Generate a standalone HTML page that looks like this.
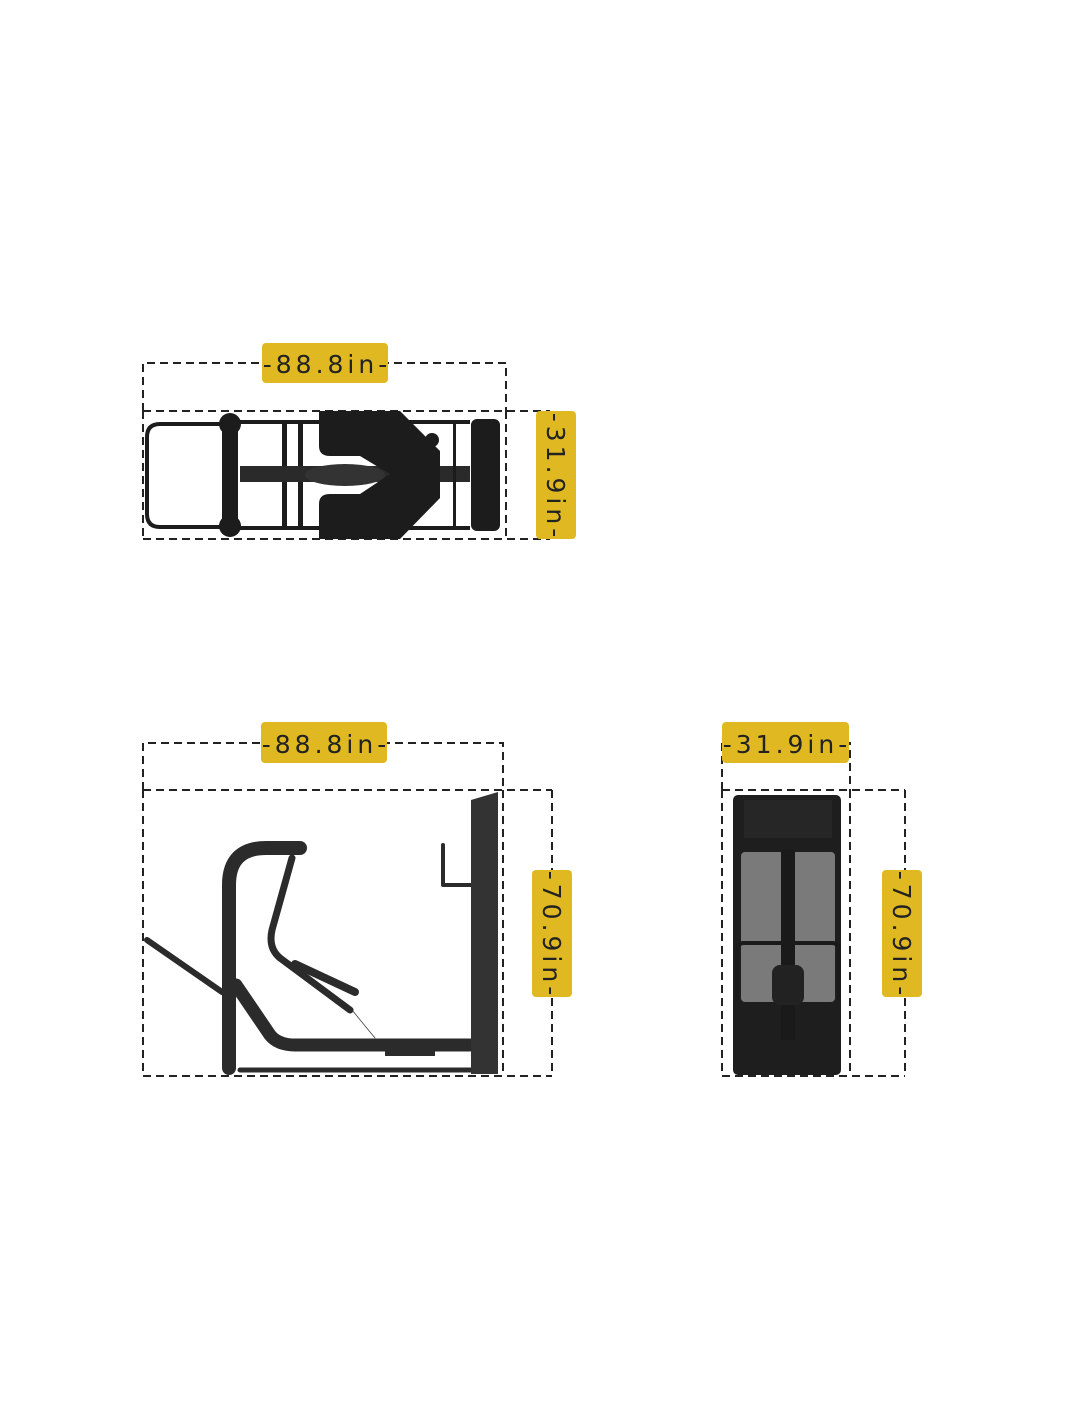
<!DOCTYPE html>
<html><head><meta charset="utf-8"><style>
html,body{margin:0;padding:0;background:#fff;}
svg{display:block}
text{font-family:"DejaVu Sans","Liberation Sans",sans-serif;font-size:25px;fill:#222;letter-spacing:4px;font-weight:normal}
</style></head><body>
<svg width="1065" height="1420" viewBox="0 0 1065 1420" xmlns="http://www.w3.org/2000/svg">
<g fill="none" stroke="#222" stroke-width="2" stroke-dasharray="8,5">
<path d="M143 411 V363 H506 V411"/>
<path d="M143 411 H550 M143 539 H550 M143 411 V539 M506 411 V539"/>
<path d="M143 790 V743 H503 V790"/>
<path d="M143 790 H552 M143 1076 H552 M143 790 V1076 M503 790 V1076 M552 790 V1076"/>
<path d="M722 790 V743 H850 V790"/>
<path d="M722 790 H905 M722 1076 H905 M722 790 V1076 M850 790 V1076 M905 790 V1076"/>
</g>

<!-- top view machine -->
<g fill="#1c1c1c" stroke="#1c1c1c">
<path d="M225 424 H160 Q147 424 147 437 V514 Q147 527 160 527 H225" fill="none" stroke-width="4"/>
<path d="M225 422 H470 M225 528 H470" stroke-width="4"/>
<circle cx="230" cy="424" r="11" stroke="none"/>
<circle cx="230" cy="526" r="11" stroke="none"/>
<rect x="222" y="420" width="16" height="110" stroke="none"/>
<rect x="282" y="424" width="5" height="104" stroke="none"/>
<rect x="298" y="424" width="5" height="104" stroke="none"/>
<rect x="240" y="466" width="230" height="16" stroke="none" fill="#2a2a2a"/>
<rect x="453" y="424" width="3" height="104" stroke="none"/>
<path d="M319 411 H400 L440 451 V498 L400 539 H319 V504 Q319 494 330 494 H360 L390 474 L360 456 H330 Q319 456 319 446 Z" stroke="none"/>
<ellipse cx="345" cy="475" rx="40" ry="11" stroke="none" fill="#333"/>
<circle cx="432" cy="440" r="7" stroke="none"/>
<rect x="471" y="419" width="29" height="112" rx="6" stroke="none"/>
</g>

<!-- side view machine -->
<g fill="none" stroke="#2b2b2b" stroke-linecap="round" stroke-linejoin="round">
<path d="M229 1068 V885 Q229 848 266 848 H300" stroke-width="14"/>
<path d="M147 940 L222 992" stroke-width="6"/>
<path d="M236 985 L270 1035 Q278 1045 295 1045 H470" stroke-width="13"/>
<path d="M240 1070 H475" stroke-width="5"/>
<path d="M292 858 L272 930 Q268 948 280 958 L350 1010" stroke-width="7"/>
<path d="M295 964 L355 992" stroke-width="8"/>
<path d="M443 845 V885 H472" stroke-width="4"/>
<path d="M352 1010 L375 1038" stroke-width="0.7"/>
</g>
<path d="M471 800 L498 792 V1074 H471 Z" fill="#333"/>
<rect x="385" y="1050" width="50" height="6" fill="#2b2b2b"/>

<!-- front view machine -->
<rect x="733" y="795" width="108" height="280" rx="5" fill="#1e1e1e"/>
<rect x="741" y="852" width="94" height="150" rx="4" fill="#7a7a7a"/>
<rect x="781" y="850" width="14" height="190" fill="#1a1a1a"/>
<path d="M737 1000 V950 Q737 943 744 943 H832 Q839 943 839 950 V1000" fill="none" stroke="#1a1a1a" stroke-width="4"/>
<rect x="772" y="965" width="32" height="40" rx="8" fill="#222"/>
<rect x="744" y="800" width="88" height="38" fill="#262626"/>

<!-- labels -->
<g fill="#E0B922">
<rect x="262" y="343" width="126" height="40" rx="4"/>
<rect x="536" y="411" width="40" height="128" rx="4"/>
<rect x="261" y="722" width="126" height="41" rx="4"/>
<rect x="532" y="870" width="40" height="127" rx="4"/>
<rect x="722" y="722" width="127" height="41" rx="4"/>
<rect x="882" y="870" width="40" height="127" rx="4"/>
</g>
<text x="327" y="373" text-anchor="middle">-88.8in-</text>
<text x="326" y="753" text-anchor="middle">-88.8in-</text>
<text x="787" y="753" text-anchor="middle">-31.9in-</text>
<text transform="translate(547,477) rotate(90)" text-anchor="middle">-31.9in-</text>
<text transform="translate(543,935) rotate(90)" text-anchor="middle">-70.9in-</text>
<text transform="translate(893,935) rotate(90)" text-anchor="middle">-70.9in-</text>
</svg>
</body></html>
